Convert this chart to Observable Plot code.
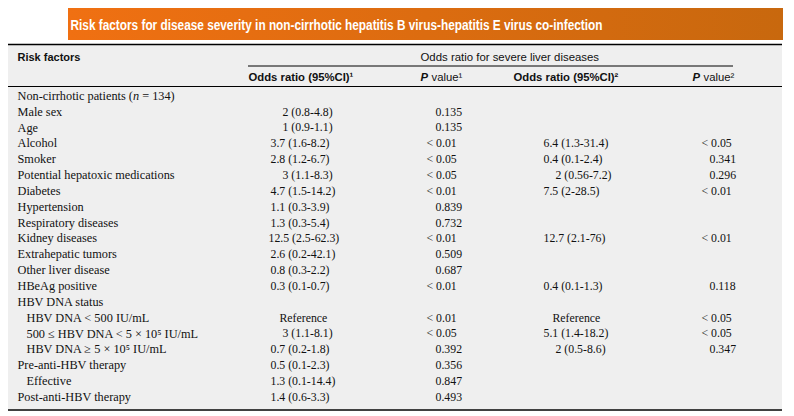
<!DOCTYPE html>
<html>
<head>
<meta charset="utf-8">
<script src="https://cdn.jsdelivr.net/npm/d3@7"></script>
<script src="https://cdn.jsdelivr.net/npm/@observablehq/plot@0.6"></script>
<style>
  html, body { margin: 0; padding: 0; background: #ffffff; }
  svg { display: block; }
</style>
</head>
<body>
<div id="chart"></div>
<script>
// ---------- data ----------
const title = "Risk factors for disease severity in non-cirrhotic hepatitis B virus-hepatitis E virus co-infection";
const groupHeader = "Odds ratio for severe liver diseases";
const firstHeader = "Risk factors";
const colHeaders = ["Odds ratio (95%CI)\u00b9", "value\u00b9", "Odds ratio (95%CI)\u00b2", "value\u00b2"];

const factors = [
  "Non-cirrhotic patients (n = 134)",
  "Male sex",
  "Age",
  "Alcohol",
  "Smoker",
  "Potential hepatoxic medications",
  "Diabetes",
  "Hypertension",
  "Respiratory diseases",
  "Kidney diseases",
  "Extrahepatic tumors",
  "Other liver disease",
  "HBeAg positive",
  "HBV DNA status",
  "HBV DNA < 500 IU/mL",
  "500 \u2264 HBV DNA < 5 \u00d7 10\u2075 IU/mL",
  "HBV DNA \u2265 5 \u00d7 10\u2075 IU/mL",
  "Pre-anti-HBV therapy",
  "Effective",
  "Post-anti-HBV therapy"
];
const level = [0,0,0,0,0,0,0,0,0,0,0,0,0,0,1,1,1,0,1,0];
const or1 = ["", "2 (0.8-4.8)", "1 (0.9-1.1)", "3.7 (1.6-8.2)", "2.8 (1.2-6.7)", "3 (1.1-8.3)",
  "4.7 (1.5-14.2)", "1.1 (0.3-3.9)", "1.3 (0.3-5.4)", "12.5 (2.5-62.3)", "2.6 (0.2-42.1)",
  "0.8 (0.3-2.2)", "0.3 (0.1-0.7)", "", "Reference", "3 (1.1-8.1)", "0.7 (0.2-1.8)",
  "0.5 (0.1-2.3)", "1.3 (0.1-14.4)", "1.4 (0.6-3.3)"];
const p1 = ["", "0.135", "0.135", "< 0.01", "< 0.05", "< 0.05", "< 0.01", "0.839", "0.732",
  "< 0.01", "0.509", "0.687", "< 0.01", "", "< 0.01", "< 0.05", "0.392", "0.356", "0.847", "0.493"];
const or2 = ["", "", "", "6.4 (1.3-31.4)", "0.4 (0.1-2.4)", "2 (0.56-7.2)", "7.5 (2-28.5)", "", "",
  "12.7 (2.1-76)", "", "", "0.4 (0.1-1.3)", "", "Reference", "5.1 (1.4-18.2)", "2 (0.5-8.6)", "", "", ""];
const p2 = ["", "", "", "< 0.05", "0.341", "0.296", "< 0.01", "", "", "< 0.01", "", "", "0.118", "",
  "< 0.05", "< 0.05", "0.347", "", "", ""];

// ---------- layout ----------
const W = 794, H = 416;
const serif = "'Liberation Serif', 'Times New Roman', serif";
const sans = "'Liberation Sans', Arial, sans-serif";
const rowY = i => 95.5 + i * 15.84;
const colX = {label: 17, or1: 270, p1: 426, or2: 543, p2: 701};
const orOffset = v => /^Reference/.test(v) ? 9 : /^\d \(/.test(v) ? 12 : v.startsWith("12.5") ? -2 : 0;
const pOffset = v => v.startsWith("<") ? 0 : 9;
const labelSize = 12.3, valueSize = 11.8;

const rows = factors.map((f, i) => ({i, f, level: level[i], or1: or1[i], p1: p1[i], or2: or2[i], p2: p2[i]}));

const chart = Plot.plot({
  width: W,
  height: H,
  margin: 0,
  x: {type: "identity", axis: null},
  y: {type: "identity", axis: null},
  marks: [
    // title bar
    Plot.rect([0], {x1: 68, x2: 783, y1: 8, y2: 40, fill: "url(#titleGrad)"}),
    Plot.text([title], {x: 70, y: 24.5, text: d => d, textAnchor: "start", fill: "white",
      fontFamily: sans, fontWeight: "bold", fontSize: 14.5}),
    // table panel
    Plot.rect([0], {x1: 8, x2: 782, y1: 44, y2: 409, fill: "#efefef"}),
    Plot.ruleY([44], {x1: 8, x2: 782, stroke: "#000", strokeWidth: 1.5}),
    Plot.ruleY([65.5], {x1: 248, x2: 733, stroke: "#000", strokeWidth: 1}),
    Plot.ruleY([86], {x1: 8, x2: 782, stroke: "#000", strokeWidth: 1}),
    Plot.ruleY([409.5], {x1: 8, x2: 782, stroke: "#000", strokeWidth: 1.5}),
    // headers
    Plot.text([firstHeader], {x: 17, y: 57, text: d => d, textAnchor: "start", fontFamily: sans,
      fontWeight: "bold", fontSize: 11, fill: "#111"}),
    Plot.text([groupHeader], {x: 420, y: 57, text: d => d, textAnchor: "start", fontFamily: sans,
      fontSize: 11.4, fill: "#111"}),
    Plot.text([colHeaders[0], colHeaders[2]], {x: (d, i) => i === 0 ? 248 : 513, y: 77, text: d => d,
      textAnchor: "start", fontFamily: sans, fontWeight: "bold", fontSize: 11.3, fill: "#111"}),
    Plot.text(["P", "P"], {x: (d, i) => i === 0 ? 420 : 692, y: 77, text: d => d, textAnchor: "start",
      fontFamily: sans, fontWeight: "bold", fontStyle: "italic", fontSize: 11.3, fill: "#111"}),
    Plot.text([colHeaders[1], colHeaders[3]], {x: (d, i) => i === 0 ? 431 : 703, y: 77, text: d => d,
      textAnchor: "start", fontFamily: sans, fontSize: 11.3, fill: "#111"}),
    // body
    Plot.text(rows, {x: d => colX.label + (d.level ? 9 : 0), y: d => rowY(d.i), text: "f",
      textAnchor: "start", fontFamily: serif, fontSize: labelSize, fill: "#111"}),
    Plot.text(rows.filter(d => d.or1), {x: d => colX.or1 + orOffset(d.or1), y: d => rowY(d.i), text: "or1",
      textAnchor: "start", fontFamily: serif, fontSize: valueSize, fill: "#111"}),
    Plot.text(rows.filter(d => d.p1), {x: d => colX.p1 + pOffset(d.p1), y: d => rowY(d.i), text: "p1",
      textAnchor: "start", fontFamily: serif, fontSize: valueSize, fill: "#111"}),
    Plot.text(rows.filter(d => d.or2), {x: d => colX.or2 + orOffset(d.or2), y: d => rowY(d.i), text: "or2",
      textAnchor: "start", fontFamily: serif, fontSize: valueSize, fill: "#111"}),
    Plot.text(rows.filter(d => d.p2), {x: d => colX.p2 + (d.p2.startsWith("<") ? 0 : 8), y: d => rowY(d.i), text: "p2",
      textAnchor: "start", fontFamily: serif, fontSize: valueSize, fill: "#111"})
  ]
});

// gradient for title bar
const ns = "http://www.w3.org/2000/svg";
const defs = document.createElementNS(ns, "defs");
const grad = document.createElementNS(ns, "linearGradient");
grad.setAttribute("id", "titleGrad");
grad.setAttribute("x1", "0"); grad.setAttribute("x2", "1");
grad.setAttribute("y1", "0"); grad.setAttribute("y2", "0");
[["0%", "#f07012"], ["100%", "#c8680e"]].forEach(([o, c]) => {
  const s = document.createElementNS(ns, "stop");
  s.setAttribute("offset", o); s.setAttribute("stop-color", c);
  grad.appendChild(s);
});
defs.appendChild(grad);
chart.insertBefore(defs, chart.firstChild);

// fit the title width and italicise n
chart.querySelectorAll("text").forEach(t => {
  if (t.textContent === title) {
    t.setAttribute("textLength", 532);
    t.setAttribute("lengthAdjust", "spacingAndGlyphs");
  }
  if (t.textContent === factors[0]) {
    t.textContent = "";
    const parts = [["Non-cirrhotic patients (", null], ["n", "italic"], [" = 134)", null]];
    parts.forEach(([s, st]) => {
      const ts = document.createElementNS(ns, "tspan");
      ts.textContent = s;
      if (st) ts.setAttribute("font-style", st);
      t.appendChild(ts);
    });
  }
});

document.getElementById("chart").appendChild(chart);
</script>
</body>
</html>
